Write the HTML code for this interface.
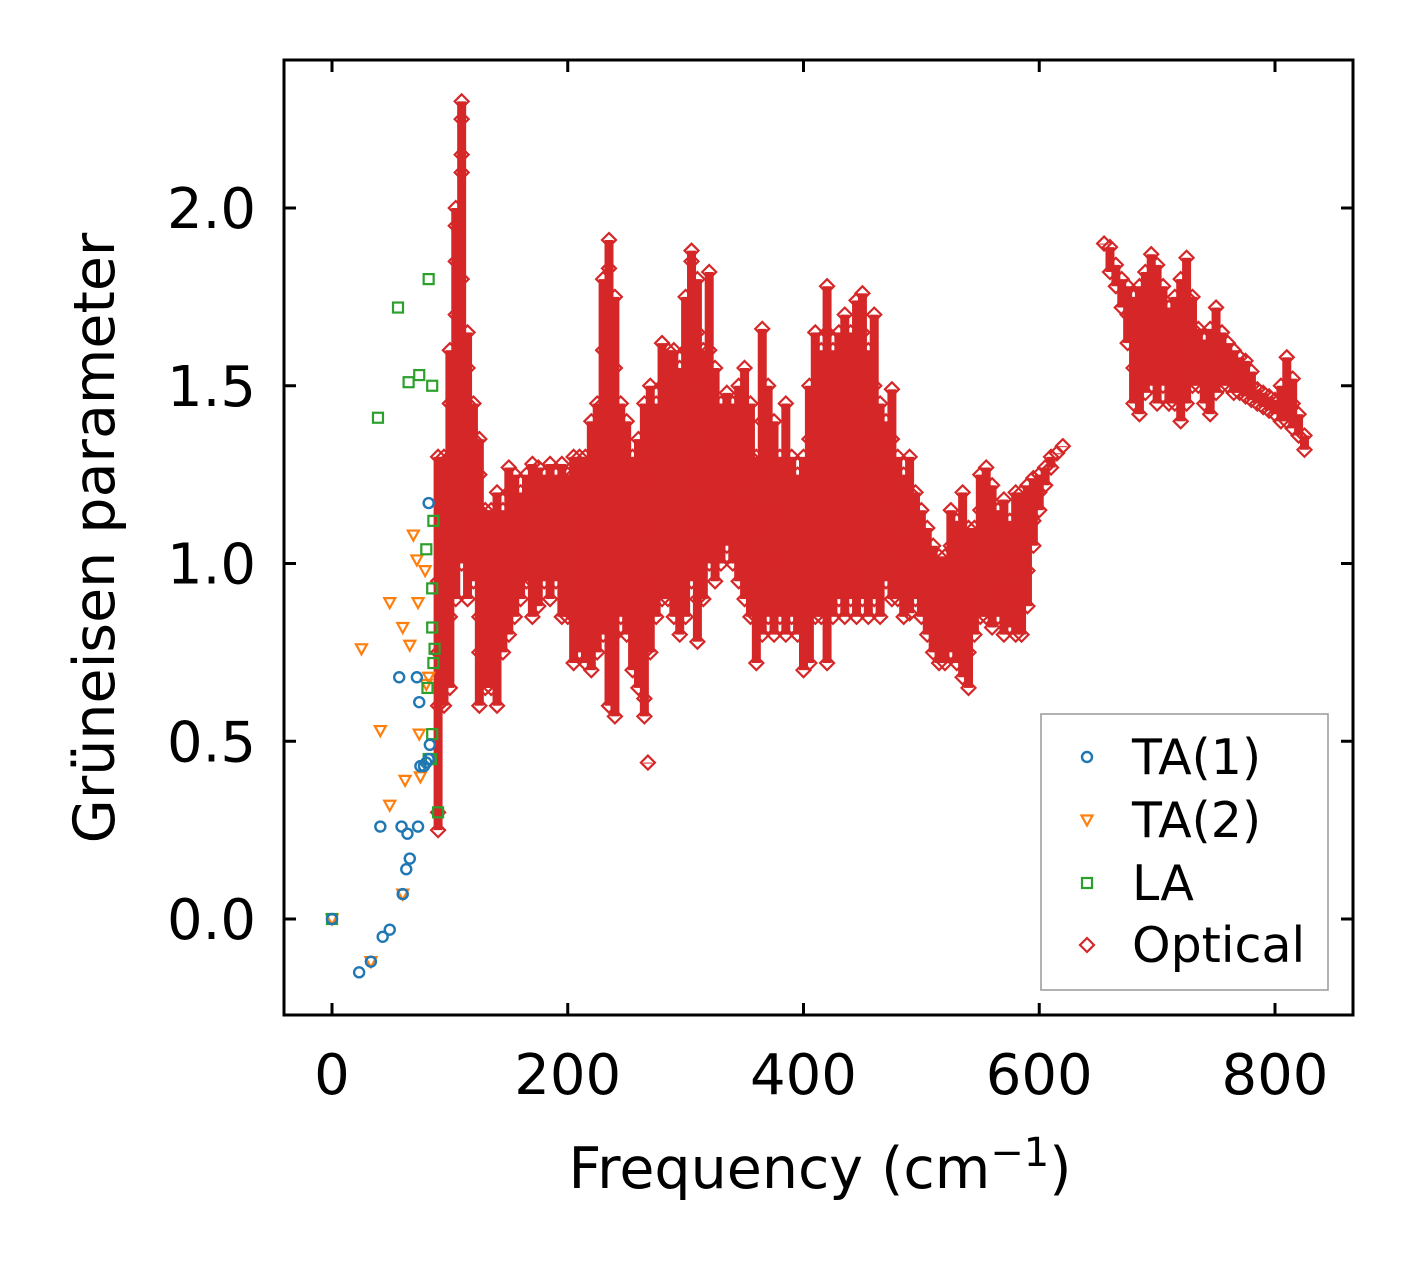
<!DOCTYPE html>
<html><head><meta charset="utf-8"><style>
html,body{margin:0;padding:0;background:#fff}
svg{display:block;font-family:"DejaVu Sans","Liberation Sans",sans-serif}
</style></head><body>
<svg id="chart" width="1413" height="1264" viewBox="0 0 1413 1264" xmlns="http://www.w3.org/2000/svg">
<rect x="0" y="0" width="1413" height="1264" fill="#fff"/>
<g id="xticks"></g>
<g id="yticks"></g>
<g id="marks"></g>
<rect x="284" y="60" width="1069" height="955" fill="none" stroke="#000" stroke-width="3"/>
<text x="820" y="1188" font-size="57" text-anchor="middle">Frequency (cm<tspan dy="-22" font-size="40">−1</tspan><tspan dy="22">)</tspan></text>
<text transform="translate(114,538) rotate(-90)" font-size="57" text-anchor="middle">Grüneisen parameter</text>
<g id="legend">
<rect x="1041" y="714" width="287" height="276" fill="#fff" stroke="#999" stroke-width="1.5"/>
</g>
</svg>
<script>
const xTicks=[0,200,400,600,800];
const yTicks=[0.0,0.5,1.0,1.5,2.0];
const yTickLabels=["0.0","0.5","1.0","1.5","2.0"];
const ta1X=[0,23,33,43,49,60,63,66,41,59,64,73,57,72,74,75,78,80,82,83,82];
const ta1Y=[0,-0.15,-0.12,-0.05,-0.03,0.07,0.14,0.17,0.26,0.26,0.24,0.26,0.68,0.68,0.61,0.43,0.43,0.44,0.45,0.49,1.17];
const ta2X=[0,33,60,25,41,49,49,60,62,66,69,72,73,74,75,79,80,82];
const ta2Y=[0,-0.12,0.07,0.76,0.53,0.32,0.89,0.82,0.39,0.77,1.08,1.01,0.89,0.52,0.40,0.98,0.66,0.68];
const laX=[0,39,56,65,74,82,85,86,85,85,87,86,80,81,85,82,84,90];
const laY=[0,1.41,1.72,1.51,1.53,1.80,1.50,1.12,0.93,0.82,0.76,0.72,1.04,0.65,0.52,0.45,0.45,0.30];
const optX=[90,95,100,105,110,115,120,125,130,135,140,145,150,155,160,165,170,175,180,185,190,195,200,205,210,215,220,225,230,235,240,245,250,255,260,265,268,270,275,280,285,290,295,300,305,310,315,320,325,330,335,340,345,350,355,360,365,370,375,380,385,390,395,400,405,410,415,420,425,430,435,440,445,450,455,460,465,470,475,480,485,490,495,500,505,510,515,520,525,530,535,540,545,550,555,560,565,570,575,580,585,590,595,600,605,610,615,620,655,660,665,670,675,680,685,690,695,700,705,710,715,720,725,730,735,740,745,750,755,760,765,770,775,780,785,790,795,800,805,810,815,820,825];
const optY=[[0.25,0.3,0.6,0.75,0.95,1.3],[0.6,0.7,0.85,1.0,1.1,1.25,1.3],[0.65,0.85,1.0,1.15,1.3,1.45,1.6],[0.9,1.1,1.3,1.5,1.7,1.85,2.0,1.95],[1.0,1.2,1.4,1.6,1.8,2.1,2.25,2.3,2.15],[0.9,1.1,1.3,1.45,1.55,1.65],[0.95,1.1,1.25,1.35,1.45],[0.6,0.75,0.85,1.0,1.15,1.25,1.35],[0.65,0.8,0.95,1.05,1.15],[0.65,0.85,0.95,1.05,1.15],[0.6,0.8,0.9,1.0,1.1,1.2],[0.75,0.85,0.95,1.05,1.15],[0.8,0.9,1.0,1.1,1.2,1.27],[0.85,0.95,1.05,1.15,1.25],[0.9,1.0,1.1,1.2],[0.95,1.05,1.15,1.25],[0.85,0.95,1.05,1.15,1.2,1.28],[0.88,1.0,1.1,1.2,1.27],[0.95,1.05,1.15,1.25],[0.9,1.0,1.1,1.2,1.28],[0.95,1.05,1.15,1.25],[0.85,1.0,1.1,1.2,1.28],[0.85,0.95,1.05,1.15,1.25],[0.72,0.85,1.0,1.15,1.25,1.3],[0.75,0.9,1.05,1.2,1.3],[0.72,0.85,1.0,1.15,1.3],[0.7,0.8,0.95,1.1,1.25,1.4],[0.75,0.9,1.05,1.2,1.35,1.45],[0.8,0.95,1.1,1.25,1.45,1.6,1.8],[0.6,0.85,1.0,1.2,1.4,1.6,1.83,1.91],[0.57,0.8,1.0,1.2,1.4,1.55,1.75],[0.85,1.0,1.15,1.3,1.45],[0.8,0.95,1.1,1.25,1.4],[0.7,0.85,1.0,1.15,1.3],[0.65,0.8,0.95,1.1,1.25,1.35],[0.57,0.62,0.75,0.9,1.05,1.2,1.3,1.45],[0.44],[0.75,0.9,1.05,1.2,1.35,1.5],[0.85,1.0,1.15,1.3,1.45],[0.9,1.05,1.2,1.35,1.5,1.62],[0.9,1.05,1.2,1.35,1.5,1.6],[0.85,1.0,1.15,1.3,1.45,1.6],[0.8,0.95,1.1,1.25,1.4,1.55],[0.85,1.0,1.15,1.3,1.45,1.6,1.75],[0.95,1.1,1.25,1.4,1.55,1.7,1.85,1.88],[0.78,0.9,1.05,1.2,1.35,1.5,1.65,1.8],[0.9,1.05,1.2,1.35,1.5,1.6],[1.0,1.15,1.3,1.45,1.6,1.82],[0.95,1.1,1.25,1.4,1.55],[1.0,1.15,1.3,1.45],[1.05,1.2,1.35,1.48],[1.0,1.15,1.3,1.45],[0.95,1.1,1.25,1.4,1.5],[0.9,1.05,1.2,1.35,1.55],[0.85,1.0,1.15,1.3,1.45],[0.72,0.85,1.0,1.15,1.3],[0.8,0.95,1.1,1.25,1.4,1.66],[0.85,1.0,1.15,1.3,1.5],[0.8,0.95,1.1,1.25,1.4],[0.85,1.0,1.15,1.3],[0.8,0.95,1.1,1.25,1.45],[0.85,1.0,1.15,1.3],[0.8,0.95,1.1,1.25],[0.7,0.85,1.0,1.15,1.3],[0.72,0.9,1.05,1.2,1.35,1.5],[0.85,1.0,1.15,1.3,1.45,1.65],[0.85,1.0,1.15,1.3,1.45,1.6],[0.72,0.9,1.05,1.2,1.35,1.5,1.65,1.78],[0.85,1.0,1.15,1.3,1.45,1.6],[0.9,1.05,1.2,1.35,1.5,1.65],[0.85,1.0,1.15,1.3,1.45,1.6,1.7],[0.9,1.05,1.2,1.35,1.5,1.65],[0.85,1.0,1.15,1.3,1.45,1.6,1.74],[0.9,1.05,1.2,1.35,1.5,1.65,1.76],[0.85,1.0,1.15,1.3,1.45,1.6],[0.9,1.05,1.2,1.35,1.5,1.7],[0.85,1.0,1.15,1.3,1.45],[0.95,1.1,1.25,1.4],[0.9,1.05,1.2,1.35,1.49],[0.9,1.05,1.2,1.3],[0.85,0.95,1.05,1.15,1.25],[0.86,1.0,1.1,1.2,1.3],[0.9,1.0,1.1,1.2],[0.85,0.95,1.05,1.15],[0.8,0.9,1.0,1.1],[0.75,0.85,0.95,1.05],[0.72,0.82,0.92,1.02],[0.72,0.82,0.92,1.02],[0.75,0.85,0.95,1.05,1.15],[0.72,0.82,0.92,1.02,1.12],[0.68,0.78,0.88,0.98,1.08,1.2],[0.65,0.75,0.9,1.0,1.1],[0.8,0.9,1.0,1.1],[0.85,0.95,1.05,1.15,1.25],[0.85,0.95,1.05,1.15,1.27],[0.82,0.92,1.02,1.12,1.22],[0.85,0.95,1.05,1.15],[0.8,0.9,1.0,1.1,1.18],[0.82,0.92,1.02,1.12],[0.8,0.9,1.0,1.1,1.2],[0.8,0.9,1.0,1.1,1.2],[0.88,0.98,1.08,1.15,1.22],[1.05,1.12,1.18,1.24],[1.15,1.2,1.25],[1.22,1.27],[1.27,1.3],[1.31],[1.33],[1.9],[1.82,1.89],[1.78,1.84],[1.72,1.8],[1.62,1.7,1.78],[1.45,1.55,1.65,1.75],[1.42,1.5,1.6,1.7,1.78],[1.48,1.56,1.65,1.75,1.82],[1.5,1.58,1.66,1.75,1.87],[1.45,1.55,1.65,1.75,1.84],[1.5,1.6,1.7,1.78],[1.45,1.55,1.65,1.72],[1.45,1.55,1.65,1.75],[1.4,1.5,1.6,1.7,1.8],[1.45,1.55,1.65,1.75,1.86],[1.5,1.58,1.66,1.75],[1.5,1.58,1.66],[1.45,1.55,1.63],[1.42,1.5,1.58,1.66],[1.48,1.56,1.64,1.72],[1.5,1.58,1.65],[1.5,1.56,1.62],[1.48,1.54,1.6],[1.48,1.53,1.58],[1.47,1.52,1.57],[1.46,1.5,1.54],[1.45,1.49],[1.44,1.48],[1.43,1.47],[1.42,1.46],[1.4,1.44,1.5],[1.4,1.46,1.58],[1.38,1.45,1.52],[1.36,1.42],[1.32,1.36]];

const NS='http://www.w3.org/2000/svg';
const X0=284,X1=1353,Y0=60,Y1=1015;
function sx(v){return 332+v*(1275-332)/800;}
function sy(v){return 919-v*(919-208)/2;}
function mk(tag,attrs,parent){const e=document.createElementNS(NS,tag);for(const k in attrs)e.setAttribute(k,attrs[k]);parent.appendChild(e);return e;}
const xg=document.getElementById('xticks'),yg=document.getElementById('yticks'),mg=document.getElementById('marks'),lg=document.getElementById('legend');
xTicks.forEach(t=>{const x=sx(t);
 const a=mk('line',{x1:x,x2:x,y1:Y1,y2:Y1-12,stroke:'#000','stroke-width':3},xg);
 
 
 const b=mk('line',{x1:x,x2:x,y1:Y0,y2:Y0+12,stroke:'#000','stroke-width':3},xg);
 
 
 const tx=mk('text',{x:x,y:1094,'font-size':56,'text-anchor':'middle'},xg);tx.textContent=String(t);
 
 
});
yTicks.forEach((t,i)=>{const y=sy(t);
 const a=mk('line',{x1:X0,x2:X0+12,y1:y,y2:y,stroke:'#000','stroke-width':3},yg);
 
 
 const b=mk('line',{x1:X1,x2:X1-12,y1:y,y2:y,stroke:'#000','stroke-width':3},yg);
 
 
 const tx=mk('text',{x:256,y:y+20,'font-size':56,'text-anchor':'end'},yg);tx.textContent=yTickLabels[i];
 
 
});
const RED='#d62728',BLUE='#1f77b4',ORANGE='#ff7f0e',GREEN='#2ca02c';
function diamond(x,y,c,p){return mk('path',{d:`M${x} ${y-7}L${x+7} ${y}L${x} ${y+7}L${x-7} ${y}Z`,fill:'none',stroke:c,'stroke-width':2.2},p);}
function circle(x,y,c,p){return mk('circle',{cx:x,cy:y,r:5,fill:'none',stroke:c,'stroke-width':2.4},p);}
function tri(x,y,c,p){return mk('path',{d:`M${x-5.5} ${y-4.5}L${x+5.5} ${y-4.5}L${x} ${y+5.5}Z`,fill:'none',stroke:c,'stroke-width':2.2},p);}
function square(x,y,c,p){return mk('rect',{x:x-5,y:y-5,width:10,height:10,fill:'none',stroke:c,'stroke-width':2.2},p);}
const env=mk('g',{},mg);


optX.forEach((x,i)=>{const ys=optY[i];const lo=Math.min(...ys),hi=Math.max(...ys);
 const r=mk('rect',{x:sx(x)-4.5,y:sy(hi),width:9,height:Math.max(1,sy(lo)-sy(hi)),fill:RED},env);
 
 
});
optX.forEach((x,i)=>{optY[i].forEach(y=>{const d=diamond(sx(x),sy(y),RED,mg);
 
 
});});
ta2X.forEach((x,i)=>{const d=tri(sx(x),sy(ta2Y[i]),ORANGE,mg);
 
 
});
laX.forEach((x,i)=>{const d=square(sx(x),sy(laY[i]),GREEN,mg);
 
 
});
ta1X.forEach((x,i)=>{const d=circle(sx(x),sy(ta1Y[i]),BLUE,mg);
 
 
});
const legendLabels=['TA(1)','TA(2)','LA','Optical'];
const legendYs=[757,820,883,945];
const legendFns=[circle,tri,square,diamond];
const legendCols=[BLUE,ORANGE,GREEN,RED];
legendLabels.forEach((l,i)=>{const m=legendFns[i](1087,legendYs[i],legendCols[i],lg);
 
 
 const t=mk('text',{x:1132,y:legendYs[i]+17,'font-size':49},lg);t.textContent=l;
 
 
});
</script>
</body></html>
